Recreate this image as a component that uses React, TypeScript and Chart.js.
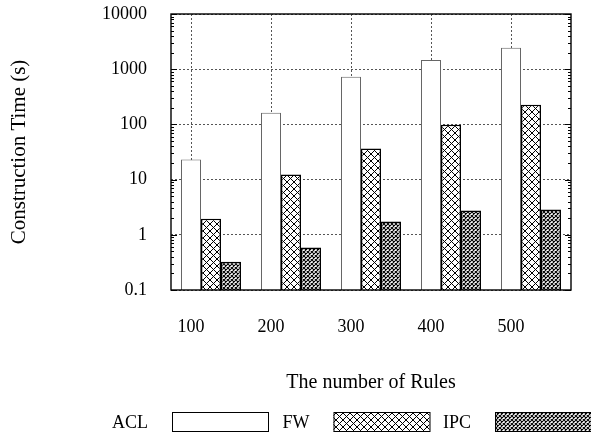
import React, { useEffect, useRef } from "react";
import { Chart, registerables } from "chart.js";

Chart.register(...registerables);

const categories = ["100", "200", "300", "400", "500"];
const seriesNames = ["ACL", "FW", "IPC"];
const aclValues = [23.1, 163, 731, 1462, 2448];
const fwValues = [1.95, 12.4, 36.5, 99, 228];
const ipcValues = [0.325, 0.59, 1.75, 2.76, 2.88];
const yTicks = [0.1, 1, 10, 100, 1000, 10000];
const yTickLabels = ["0.1", "1", "10", "100", "1000", "10000"];
const minorMultipliers = [2, 3, 4, 5, 6, 7, 8, 9];
const xTitle = "The number of Rules";
const yTitle = "Construction Time (s)";

const FONT = "'Liberation Serif', 'Times New Roman', serif";
const FONT_SIZE = 18;
const TITLE_SIZE = 20;
const Y_TITLE_SIZE = 21;

function makeCross(period: number, lw: number) {
  const c = document.createElement("canvas");
  c.width = period;
  c.height = period;
  const g = c.getContext("2d")!;
  g.fillStyle = "#fff";
  g.fillRect(0, 0, period, period);
  g.strokeStyle = "#000";
  g.lineWidth = lw;
  g.beginPath();
  for (const o of [-period, 0, period]) {
    g.moveTo(o, 0);
    g.lineTo(o + period, period);
    g.moveTo(o + period, 0);
    g.lineTo(o, period);
  }
  g.stroke();
  return g.createPattern(c, "repeat")!;
}

export default function App() {
  const ref = useRef<HTMLCanvasElement>(null);

  useEffect(() => {
    const canvas = ref.current!;
    const fwPattern = makeCross(7, 1);
    const ipcPattern = makeCross(4, 1.05);
    const fills: any[] = ["#ffffff", fwPattern, ipcPattern];
    const borders = ["#666", "#000", "#000"];
    const values = [aclValues, fwValues, ipcValues];

    const framePlugin = {
      id: "frame",
      afterDraw(chart: any) {
        const { ctx, chartArea: a } = chart;
        const y = chart.scales.y;
        ctx.save();
        ctx.strokeStyle = "#000";
        ctx.lineWidth = 1;
        ctx.beginPath();
        yTicks.forEach((v) => {
          const py = Math.round(y.getPixelForValue(v)) + 0.5;
          ctx.moveTo(a.left, py);
          ctx.lineTo(a.left + 6, py);
          ctx.moveTo(a.right, py);
          ctx.lineTo(a.right - 6, py);
        });
        yTicks.slice(0, -1).forEach((d) => {
          minorMultipliers.forEach((m) => {
            const py = Math.round(y.getPixelForValue(d * m)) + 0.5;
            ctx.moveTo(a.left, py);
            ctx.lineTo(a.left + 3, py);
            ctx.moveTo(a.right, py);
            ctx.lineTo(a.right - 3, py);
          });
        });
        ctx.stroke();
        ctx.lineWidth = 1.4;
        ctx.strokeRect(a.left, a.top, a.right - a.left, a.bottom - a.top);

        ctx.font = `${FONT_SIZE}px ${FONT}`;
        ctx.textBaseline = "middle";
        ctx.textAlign = "right";
        const cy = 422;
        seriesNames.forEach((name, i) => {
          const bx = 172 + i * 161.5;
          ctx.fillStyle = "#000";
          ctx.fillText(name, bx - 24, cy + 1);
          ctx.fillStyle = fills[i];
          ctx.fillRect(bx, cy - 9.5, 96, 19);
          ctx.strokeStyle = "#000";
          ctx.lineWidth = 1;
          ctx.strokeRect(bx + 0.5, cy - 9.5, 96, 19);
        });
        ctx.restore();
      },
    };

    const chart = new Chart(canvas, {
      type: "bar",
      data: {
        labels: categories,
        datasets: seriesNames.map((name, i) => ({
          label: name,
          data: values[i],
          backgroundColor: fills[i],
          borderColor: borders[i],
          borderWidth: i === 0 ? 1 : 1.5,
          barPercentage: 1,
          categoryPercentage: 0.75,
          xAxisID: "x",
          yAxisID: "y",
        })),
      },
      options: {
        animation: false,
        responsive: false,
        layout: { padding: { top: 14, right: 20, left: 0, bottom: 0 } },
        plugins: {
          legend: { display: false },
          tooltip: { enabled: false },
        },
        scales: {
          x: { type: "category", display: false, offset: true },
          x2: {
            type: "linear",
            position: "bottom",
            min: -0.5,
            max: 4.5,
            offset: false,
            afterBuildTicks: (s: any) => {
              s.ticks = categories.map((_, i) => ({ value: i - 0.25 }));
            },
            ticks: {
              callback: (_v: any, idx: number) => categories[idx],
              font: { family: FONT, size: FONT_SIZE },
              color: "#000",
              padding: 26,
              maxRotation: 0,
              autoSkip: false,
            },
            grid: { color: "#555", lineWidth: 1, drawTicks: false, offset: false },
            border: { display: false, dash: [2, 2] },
            title: {
              display: true,
              text: xTitle,
              font: { family: FONT, size: TITLE_SIZE },
              color: "#000",
              padding: { top: 0, bottom: 41 },
            },
            afterFit: (s: any) => {
              s.height = 146;
              s.paddingLeft = 0;
              s.paddingRight = 0;
              s.paddingTop = 0;
              s.paddingBottom = 0;
            },
          } as any,
          y: {
            type: "logarithmic",
            min: 0.1,
            max: 10000,
            afterBuildTicks: (s: any) => {
              s.ticks = yTicks.map((v) => ({ value: v }));
            },
            ticks: {
              callback: (_v: any, idx: number) => yTickLabels[idx],
              font: { family: FONT, size: FONT_SIZE },
              color: "#000",
              padding: 24,
            },
            grid: { color: "#555", lineWidth: 1, drawTicks: false },
            border: { display: false, dash: [2, 2] },
            title: {
              display: true,
              text: yTitle,
              font: { family: FONT, size: Y_TITLE_SIZE },
              color: "#000",
              padding: { top: 7, bottom: 0 },
            },
            afterFit: (s: any) => {
              s.width = 171;
              s.paddingTop = 0;
              s.paddingBottom = 0;
              s.paddingLeft = 0;
              s.paddingRight = 0;
            },
          } as any,
        },
      },
      plugins: [framePlugin],
    });
    return () => chart.destroy();
  }, []);

  return (
    <div style={{ position: "absolute", left: 0, top: 0, width: 591, height: 436, background: "#fff" }}>
      <canvas ref={ref} width={591} height={436} style={{ display: "block" }} />
    </div>
  );
}
